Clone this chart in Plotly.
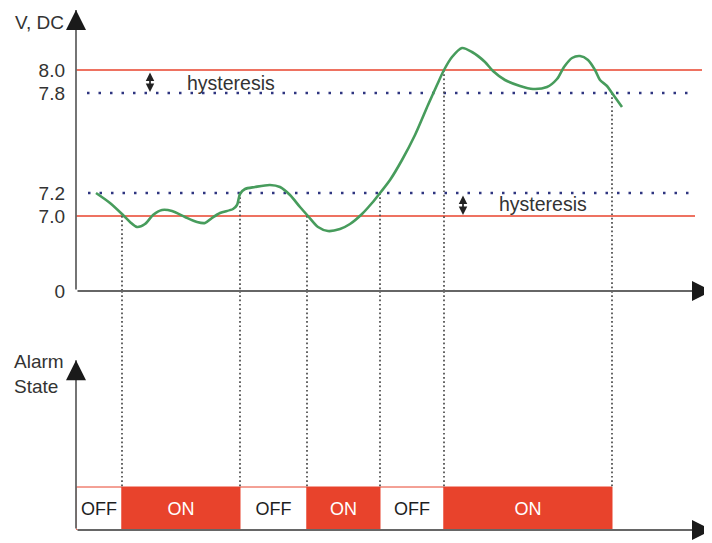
import plotly.graph_objects as go

# ---------------- data (schematic units: time t, display level) ----------------
THRESH_LABELS = ["0", "7.0", "7.2", "7.8", "8.0"]
THRESH_LEVELS = [0, 75, 98, 198, 221]          # display level of each tick label

ALARM_LEVELS = [221, 75]                         # 8.0 and 7.0 (red lines)
ALARM_ENDS = [626, 619]
HYST_LEVELS = [198, 98]                          # 7.8 and 7.2 (blue dotted lines)
HYST_START = [11, 12]
HYST_ENDS = [615, 615]

CURVE_T = [20, 34, 47, 54, 61, 69, 77, 86, 96, 109, 121, 129, 136, 144, 157, 161, 164,
           169, 179, 194, 204, 214, 224, 232, 242, 252, 264, 274, 286, 296, 304, 314,
           326, 339, 352, 361, 368, 376, 386, 396, 409, 417, 429, 444, 457, 471, 481,
           488, 496, 504, 512, 519, 524, 531, 536, 541, 546]
CURVE_LEVEL = [98, 88, 76, 69, 64, 67, 76, 81, 80, 74, 69, 68, 73, 78, 82, 86, 97,
               102, 104, 106, 104, 96, 84, 75, 64, 60, 62, 67, 77, 88, 98, 111,
               131, 156, 186, 206, 221, 234, 243, 239, 229, 220, 211, 205, 202, 204, 212,
               224, 233, 235, 231, 221, 211, 205, 198, 191, 184]

SWITCH_T = [46, 164, 231, 304, 368, 536]         # state changes
SWITCH_LEVEL = [75, 98, 75, 98, 221, 198]        # level where the curve crosses

STATE_START = [0, 46, 164, 231, 304, 368]
STATE_END = [46, 164, 231, 304, 368, 536]
STATES = ["OFF", "ON", "OFF", "ON", "OFF", "ON"]

HYST_ARROW_T = [74, 387]
HYST_TEXT = ["hysteresis", "hysteresis"]

# ---------------- styling ----------------
FONT = "Liberation Sans, Arial, sans-serif"
RED = "#E8432C"
BLUE = "#2E3580"
GREEN = "#479C5C"
AXIS = "#666666"
DOTS = "#4A4A4A"
HEAD = "#1A1A1A"
TXT = "#333333"
PLOT_H = 522
TOP_PX = 283                 # height of upper panel (1 level = 1 px)
LOW_PX = PLOT_H - TOP_PX     # height of lower panel
Y2_TOP = LOW_PX / 43         # a state bar (height 1) is 43 px tall
V_AXIS_TOP = 281
A_AXIS_TOP = 3.95
X_AXIS_END = 636

fig = go.Figure()

# threshold lines
for lv, xe in zip(ALARM_LEVELS, ALARM_ENDS):
    fig.add_trace(go.Scatter(x=[0, xe], y=[lv, lv], mode="lines",
                             line=dict(color=RED, width=1.6), hoverinfo="skip"))
for lv, xs, xe in zip(HYST_LEVELS, HYST_START, HYST_ENDS):
    fig.add_trace(go.Scatter(x=[xs, xe], y=[lv, lv], mode="lines",
                             line=dict(color=BLUE, width=2.5, dash="2.5px,9px"),
                             hoverinfo="skip"))

# vertical dotted connectors
for t, lv in zip(SWITCH_T, SWITCH_LEVEL):
    fig.add_trace(go.Scatter(x=[t, t], y=[lv, 0], mode="lines",
                             line=dict(color=DOTS, width=1.7, dash="1.7px,2.6px"),
                             hoverinfo="skip"))
    fig.add_trace(go.Scatter(x=[t, t], y=[Y2_TOP, 1], mode="lines", xaxis="x2", yaxis="y2",
                             line=dict(color=DOTS, width=1.7, dash="1.7px,2.6px"),
                             hoverinfo="skip"))

# voltage curve
fig.add_trace(go.Scatter(x=CURVE_T, y=CURVE_LEVEL, mode="lines",
                         line=dict(color=GREEN, width=2.6, shape="spline", smoothing=0.8),
                         hoverinfo="skip"))

# alarm state bars
centers = [(a + b) / 2 for a, b in zip(STATE_START, STATE_END)]
widths = [b - a for a, b in zip(STATE_START, STATE_END)]
fig.add_trace(go.Bar(
    x=centers, y=[1] * len(STATES), base=0, width=widths, xaxis="x2", yaxis="y2",
    marker=dict(color=[RED if s == "ON" else "white" for s in STATES],
                line=dict(color=RED, width=1)),
    text=STATES, textposition="inside", insidetextanchor="middle",
    textfont=dict(family=FONT, size=18,
                  color=["white" if s == "ON" else "#1E1E1E" for s in STATES]),
    constraintext="none", hoverinfo="skip"))

annotations = []


def axis_arrow(xr, yr, x1, y1, hx, hy):
    """Gray axis line from the origin to (x1, y1) plus a black arrow head."""
    line = dict(x=x1, y=y1, ax=0, ay=0, xref=xr, yref=yr, axref=xr, ayref=yr,
                text="", showarrow=True, arrowhead=0, arrowwidth=1.8,
                arrowcolor=AXIS, font=dict(size=1))
    head = dict(x=x1, y=y1, ax=hx, ay=hy, xref=xr, yref=yr, axref=xr, ayref=yr,
                text="", showarrow=True, arrowhead=2, arrowsize=2.0, arrowwidth=2,
                arrowcolor=HEAD, font=dict(size=1))
    return [line, head]


annotations += axis_arrow("x", "y", 0, V_AXIS_TOP, 0, V_AXIS_TOP - 10)
annotations += axis_arrow("x", "y", X_AXIS_END, 0, X_AXIS_END - 10, 0)
annotations += axis_arrow("x2", "y2", 0, A_AXIS_TOP, 0, A_AXIS_TOP - 0.25)
annotations += axis_arrow("x2", "y2", X_AXIS_END, 0, X_AXIS_END - 10, 0)

# hysteresis arrows and labels
for t, (hi, lo), txt, tx, ty in zip(HYST_ARROW_T, [(220, 199), (97, 76)], HYST_TEXT,
                                    [155, 467], [208, 87]):
    annotations.append(dict(x=t, y=lo, ax=t, ay=hi, xref="x", yref="y", axref="x", ayref="y",
                            text="", showarrow=True, arrowhead=2, arrowside="end+start",
                            arrowsize=1.0, arrowwidth=1.7, arrowcolor="#222222",
                            font=dict(size=1)))
    annotations.append(dict(x=tx, y=ty, xref="x", yref="y", text=txt, showarrow=False,
                            font=dict(family=FONT, size=19.5, color=TXT)))

# axis titles
annotations.append(dict(x=0, y=269, xref="paper", yref="y", xanchor="right", xshift=-10,
                        text="V, DC", showarrow=False,
                        font=dict(family=FONT, size=19, color=TXT)))
annotations.append(dict(x=0, y=3.63, xref="paper", yref="y2", xanchor="right", xshift=-10,
                        text="Alarm<br>State", align="left", showarrow=False,
                        font=dict(family=FONT, size=19, color=TXT)))

fig.update_layout(
    width=704, height=PLOT_H + 13,
    margin=dict(l=68, r=0, t=0, b=13, autoexpand=False),
    paper_bgcolor="white", plot_bgcolor="white",
    showlegend=False,
    font=dict(family=FONT, color=TXT),
    annotations=annotations,
    xaxis=dict(domain=[0, 1], range=[0, 636], visible=False, anchor="y"),
    xaxis2=dict(domain=[0, 1], range=[0, 636], visible=False, anchor="y2", matches="x"),
    yaxis=dict(domain=[LOW_PX / PLOT_H, 1], range=[0, TOP_PX], anchor="x",
               tickvals=THRESH_LEVELS, ticktext=THRESH_LABELS, ticks="",
               ticklabelstandoff=10, tickfont=dict(family=FONT, size=19, color=TXT),
               showgrid=False, zeroline=False, showline=False, automargin=False),
    yaxis2=dict(domain=[0, LOW_PX / PLOT_H], range=[0, Y2_TOP], anchor="x2", visible=False),
)

fig.write_html("out.html")
